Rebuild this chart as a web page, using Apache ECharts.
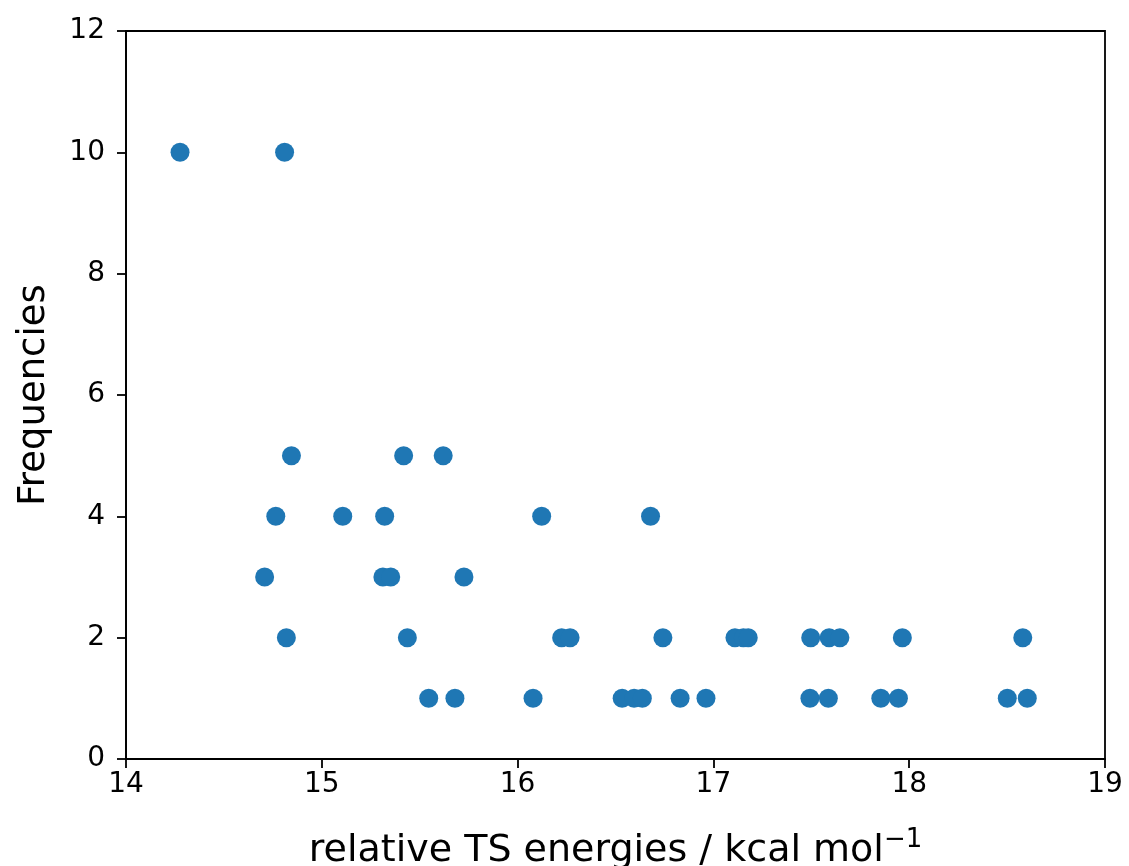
<!DOCTYPE html>
<html>
<head>
<meta charset="utf-8">
<script src="https://cdn.jsdelivr.net/npm/echarts@6/dist/echarts.min.js"></script>
<style>
  html, body { margin: 0; padding: 0; background: #fff; }
  #main { width: 1129px; height: 866px; }
</style>
</head>
<body>
<div id="main"></div>
<script>
// energies (kcal/mol) and how often each one occurs
const energies = [
  14.276, 14.81,
  14.845, 15.418, 15.62,
  14.765, 15.107, 15.321, 16.123, 16.679,
  14.708, 15.312, 15.352, 15.726,
  14.819, 15.437, 16.225, 16.268, 16.742, 17.11, 17.153, 17.178, 17.497, 17.591, 17.646, 17.965, 18.58,
  15.546, 15.68, 16.079, 16.534, 16.595, 16.637, 16.83, 16.962, 17.493, 17.587, 17.855, 17.945, 18.501, 18.603
];
const frequencies = [
  10, 10,
  5, 5, 5,
  4, 4, 4, 4, 4,
  3, 3, 3, 3,
  2, 2, 2, 2, 2, 2, 2, 2, 2, 2, 2, 2, 2,
  1, 1, 1, 1, 1, 1, 1, 1, 1, 1, 1, 1, 1, 1
];
const xTicks = [14, 15, 16, 17, 18, 19];
const yTicks = [0, 2, 4, 6, 8, 10, 12];

let myChart = echarts.init(document.getElementById('main'));
const font = 'DejaVu Sans';
const axisCommon = {
  axisLine: { show: true, onZero: false, lineStyle: { color: '#000', width: 1.8 } },
  axisTick: { show: true, inside: false, length: 9, lineStyle: { color: '#000', width: 1.8 } },
  splitLine: { show: false }
};

myChart.setOption({
  animation: false,
  grid: {
    left: 126, right: 24, top: 31, bottom: 107,
    containLabel: false, outerBoundsMode: 'none',
    show: true, borderColor: '#000', borderWidth: 1.8
  },
  xAxis: Object.assign({}, axisCommon, {
    type: 'value',
    min: xTicks[0], max: xTicks[xTicks.length - 1], interval: 1,
    name: 'relative TS energies / kcal mol{sup|−1}',
    nameLocation: 'middle', nameGap: 68,
    nameTextStyle: {
      color: '#000', fontFamily: font, fontSize: 38,
      rich: { sup: { fontSize: 26, verticalAlign: 'top', padding: [0, 0, 22, 0], fontFamily: font, color: '#000' } }
    },
    axisLabel: { color: '#000', fontFamily: font, fontSize: 28, margin: 12 }
  }),
  yAxis: Object.assign({}, axisCommon, {
    type: 'value',
    min: yTicks[0], max: yTicks[yTicks.length - 1], interval: 2,
    name: 'Frequencies',
    nameLocation: 'middle', nameGap: 73,
    nameTextStyle: { color: '#000', fontFamily: font, fontSize: 37 },
    axisLabel: { color: '#000', fontFamily: font, fontSize: 28, margin: 21 }
  }),
  series: [{
    type: 'scatter',
    symbolSize: 19,
    itemStyle: { color: '#1f77b4', opacity: 1 },
    data: energies.map((e, i) => [e, frequencies[i]])
  }]
});
</script>
</body>
</html>
